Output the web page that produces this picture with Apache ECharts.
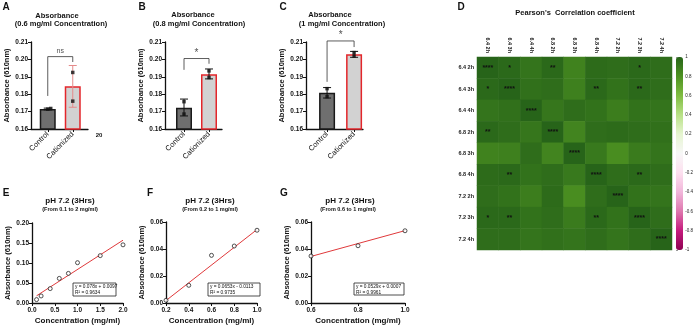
<!DOCTYPE html>
<html>
<head>
<meta charset="utf-8">
<script src="https://cdn.jsdelivr.net/npm/echarts@6/dist/echarts.min.js"></script>
<style>
html,body{margin:0;padding:0;background:#fff;}
#main{width:696px;height:328px;}
</style>
</head>
<body>
<div id="main"></div>
<script>
var FONT = '"Liberation Sans", Arial, sans-serif';

/* bar panels A-C */
var barCats = ['Control', 'Cationized'];
var meanA = [0.1715, 0.1845];
var lowA = [0.1710, 0.1725];
var highA = [0.1720, 0.1965];
var dotsA = [[0, 0.1714], [0.12, 0.1718], [1, 0.1925], [1, 0.1760]];
var bracketA = [0.179, 0.2016, 0.1985];

var meanB = [0.1722, 0.1915];
var lowB = [0.1675, 0.1888];
var highB = [0.1772, 0.1945];
var dotsB = [[0, 0.1757], [0, 0.1686], [1, 0.1934], [1, 0.1896]];
var bracketB = [0.194, 0.2005, 0.1975];

var meanC = [0.1809, 0.2029];
var lowC = [0.1778, 0.2012];
var highC = [0.1838, 0.2046];
var dotsC = [[0, 0.1832], [0, 0.1786], [1, 0.2039], [1, 0.2019]];
var bracketC = [0.1871, 0.2106, 0.2071];

var sigLabels = ['ns', '*', '*'];

/* calibration panels E-G */
var concE = [0.1, 0.2, 0.4, 0.6, 0.8, 1.0, 1.5, 2.0];
var absE = [0.0085, 0.0176, 0.036, 0.0615, 0.074, 0.1008, 0.1184, 0.1454];
var fitE = [[0.1, 0.018], [2.0, 0.157]];
var eqE = ['y = 0.078x + 0.0097', 'R\u00b2 = 0.9634'];

var concF = [0.2, 0.4, 0.6, 0.8, 1.0];
var absF = [0.002, 0.0131, 0.0353, 0.0422, 0.0539];
var fitF = [[0.2, 0.0018], [1.0, 0.0544]];
var eqF = ['y = 0.0653x - 0.0113', 'R\u00b2 = 0.9735'];

var concG = [0.6, 0.8, 1.0];
var absG = [0.0348, 0.0424, 0.0535];
var fitG = [[0.6, 0.0345], [1.0, 0.0536]];
var eqG = ['y = 0.0529x + 0.0007', 'R\u00b2 = 0.9961'];

/* correlation heatmap D */
var corrLabels = ['6.4 2h', '6.4 3h', '6.4 4h', '6.8 2h', '6.8 3h', '6.8 4h', '7.2 2h', '7.2 3h', '7.2 4h'];
var corrValues = [
  [1.00, 0.98, 0.93, 0.98, 0.87, 0.97, 0.96, 0.98, 0.96],
  [0.98, 1.00, 0.95, 0.96, 0.88, 0.98, 0.94, 0.98, 0.96],
  [0.93, 0.95, 1.00, 0.92, 0.96, 0.94, 0.89, 0.94, 0.93],
  [0.98, 0.96, 0.92, 1.00, 0.86, 0.96, 0.97, 0.96, 0.95],
  [0.87, 0.88, 0.96, 0.86, 1.00, 0.91, 0.82, 0.90, 0.93],
  [0.97, 0.98, 0.94, 0.96, 0.91, 1.00, 0.96, 0.98, 0.96],
  [0.96, 0.94, 0.89, 0.97, 0.82, 0.96, 1.00, 0.94, 0.93],
  [0.98, 0.98, 0.94, 0.96, 0.90, 0.98, 0.94, 1.00, 0.96],
  [0.96, 0.96, 0.93, 0.95, 0.93, 0.96, 0.93, 0.96, 1.00]
];
var corrStars = [
  ['****', '*', '', '**', '', '', '', '*', ''],
  ['*', '****', '', '', '', '**', '', '**', ''],
  ['', '', '****', '', '', '', '', '', ''],
  ['**', '', '', '****', '', '', '', '', ''],
  ['', '', '', '', '****', '', '', '', ''],
  ['', '**', '', '', '', '****', '', '**', ''],
  ['', '', '', '', '', '', '****', '', ''],
  ['*', '**', '', '', '', '**', '', '****', ''],
  ['', '', '', '', '', '', '', '', '****']
];
var piyg = ['#8e0152', '#c51b7d', '#de77ae', '#f1b6da', '#fde0ef', '#f7f7f7', '#e6f5d0', '#b8e186', '#7fbc41', '#4d9221', '#276419'];

var grids = [], xAxes = [], yAxes = [], series = [];
var axisCol = '#111';

// 柱状图面板
function barPanel(left, xmin, xmax, mean, low, high, dots, bracket, sig, errCols) {
  grids.push({left: left, top: 42, width: 57, height: 87});
  var gi = grids.length - 1;
  xAxes.push({
    gridIndex: gi, type: 'value', min: xmin, max: xmax,
    splitLine: {show: false},
    axisLine: {onZero: false, lineStyle: {color: axisCol, width: 1.3}},
    axisTick: {customValues: [0, 1], length: 3, lineStyle: {color: axisCol}},
    axisLabel: {customValues: [0, 1], rotate: 45, fontSize: 7.5, color: '#111', fontFamily: FONT, margin: 4,
      formatter: function (v) { return barCats[Math.round(v)]; }}
  });
  yAxes.push({
    gridIndex: gi, type: 'value', min: 0.16, max: 0.21, interval: 0.01,
    splitLine: {show: false},
    axisLine: {show: true, onZero: false, lineStyle: {color: axisCol, width: 1.3}},
    axisTick: {show: true, length: 3, lineStyle: {color: axisCol}},
    axisLabel: {fontSize: 6.5, fontWeight: 'bold', color: '#111', fontFamily: FONT, margin: 3,
      formatter: function (v) { return v.toFixed(2); }},
    name: 'Absorbance (610nm)', nameLocation: 'middle', nameGap: 20,
    nameTextStyle: {fontSize: 7.5, fontWeight: 'bold', color: '#111', fontFamily: FONT}
  });
  var xi = xAxes.length - 1, yi = yAxes.length - 1;
  var fills = ['#6f6f6f', '#d2d2d2'];
  var edges = ['#1a1a1a', '#e3262b'];
  series.push({
    type: 'bar', xAxisIndex: xi, yAxisIndex: yi, barWidth: 16, z: 2, silent: true,
    data: mean.map(function (v, i) {
      return {value: [i, v], itemStyle: {color: fills[i], borderColor: edges[i], borderWidth: 1.5}};
    })
  });
  series.push({
    type: 'custom', xAxisIndex: xi, yAxisIndex: yi, z: 3, silent: true,
    data: mean.map(function (v, i) { return [i, low[i], high[i]]; }),
    renderItem: function (params, api) {
      var t = api.coord([api.value(0), api.value(2)]);
      var b = api.coord([api.value(0), api.value(1)]);
      var c = errCols[params.dataIndex], w = 4;
      var st = {stroke: c, lineWidth: 1};
      return {type: 'group', children: [
        {type: 'line', shape: {x1: t[0], y1: t[1], x2: b[0], y2: b[1]}, style: st},
        {type: 'line', shape: {x1: t[0] - w, y1: t[1], x2: t[0] + w, y2: t[1]}, style: st},
        {type: 'line', shape: {x1: b[0] - w, y1: b[1], x2: b[0] + w, y2: b[1]}, style: st}
      ]};
    }
  });
  series.push({
    type: 'scatter', xAxisIndex: xi, yAxisIndex: yi, z: 4, silent: true,
    symbol: 'rect', symbolSize: 3.5, itemStyle: {color: '#111'}, data: dots
  });
  series.push({
    type: 'line', xAxisIndex: xi, yAxisIndex: yi, z: 4, silent: true, clip: false,
    symbol: 'none', lineStyle: {color: '#333', width: 0.8},
    data: [[0, bracket[0]], [0, bracket[1]], [1, bracket[1]], [1, bracket[2]]]
  });
  series.push({
    type: 'scatter', xAxisIndex: xi, yAxisIndex: yi, z: 4, silent: true, clip: false,
    symbolSize: 1, itemStyle: {color: 'rgba(0,0,0,0)'},
    label: {show: true, position: 'top', distance: sig === '*' ? 0 : 2, formatter: sig,
      fontSize: sig === '*' ? 10 : 7, color: '#222', fontFamily: FONT},
    data: [[0.5, bracket[1]]]
  });
}

// 标准曲线面板
function fitPanel(left, top, width, height, xmin, xmax, xint, ymax, yint, xs, ys, fit) {
  grids.push({left: left, top: top, width: width, height: height});
  var gi = grids.length - 1;
  xAxes.push({
    gridIndex: gi, type: 'value', min: xmin, max: xmax, interval: xint,
    splitLine: {show: false},
    axisLine: {onZero: false, lineStyle: {color: axisCol, width: 1.3}},
    axisTick: {length: 3, lineStyle: {color: axisCol}},
    axisLabel: {fontSize: 6.5, fontWeight: 'bold', color: '#111', fontFamily: FONT, margin: 4,
      formatter: function (v) { return v.toFixed(1); }},
    name: 'Concentration (mg/ml)', nameLocation: 'middle', nameGap: 14,
    nameTextStyle: {fontSize: 8, fontWeight: 'bold', color: '#111', fontFamily: FONT}
  });
  yAxes.push({
    gridIndex: gi, type: 'value', min: 0, max: ymax, interval: yint,
    splitLine: {show: false},
    axisLine: {show: true, onZero: false, lineStyle: {color: axisCol, width: 1.3}},
    axisTick: {show: true, length: 3, lineStyle: {color: axisCol}},
    axisLabel: {fontSize: 6.5, fontWeight: 'bold', color: '#111', fontFamily: FONT, margin: 3,
      formatter: function (v) { return v.toFixed(2); }},
    name: 'Absorbance (610nm)', nameLocation: 'middle', nameGap: 20,
    nameTextStyle: {fontSize: 7.5, fontWeight: 'bold', color: '#111', fontFamily: FONT}
  });
  var xi = xAxes.length - 1, yi = yAxes.length - 1;
  series.push({
    type: 'line', xAxisIndex: xi, yAxisIndex: yi, z: 2, silent: true, symbol: 'none',
    lineStyle: {color: '#e0393b', width: 1}, data: fit
  });
  series.push({
    type: 'scatter', xAxisIndex: xi, yAxisIndex: yi, z: 3, silent: true, clip: false,
    symbol: 'circle', symbolSize: 4,
    itemStyle: {color: '#fff', borderColor: '#111', borderWidth: 0.9},
    data: xs.map(function (x, i) { return [x, ys[i]]; })
  });
}

barPanel(31, -0.67, 1.61, meanA, lowA, highA, dotsA, bracketA, sigLabels[0], ['#111', '#e58a8a']);
barPanel(165, -0.76, 1.52, meanB, lowB, highB, dotsB, bracketB, sigLabels[1], ['#111', '#111']);
barPanel(306, -0.78, 1.33, meanC, lowC, highC, dotsC, bracketC, sigLabels[2], ['#111', '#111']);

fitPanel(32, 223, 91, 80, 0, 2, 0.5, 0.2, 0.05, concE, absE, fitE);
fitPanel(166, 222, 91, 81, 0.2, 1.0, 0.2, 0.06, 0.02, concF, absF, fitF);
fitPanel(311, 222, 94, 81, 0.6, 1.0, 0.2, 0.06, 0.02, concG, absG, fitG);

/* heatmap */
grids.push({left: 477, top: 57, width: 195, height: 193});
var hg = grids.length - 1;
xAxes.push({
  gridIndex: hg, type: 'category', data: corrLabels, position: 'top',
  axisLine: {show: false}, axisTick: {show: false}, splitLine: {show: false},
  axisLabel: {rotate: 90, fontSize: 5.5, fontWeight: 'bold', color: '#222', fontFamily: FONT, margin: 4}
});
yAxes.push({
  gridIndex: hg, type: 'category', data: corrLabels, inverse: true,
  axisLine: {show: false}, axisTick: {show: false}, splitLine: {show: false},
  axisLabel: {fontSize: 5.5, fontWeight: 'bold', color: '#222', fontFamily: FONT, margin: 3}
});
var heatData = [];
for (var r = 0; r < corrLabels.length; r++) {
  for (var c = 0; c < corrLabels.length; c++) {
    heatData.push([c, r, corrValues[r][c]]);
  }
}
var heatIndex = series.length;
series.push({
  type: 'heatmap', xAxisIndex: xAxes.length - 1, yAxisIndex: yAxes.length - 1, silent: true,
  data: heatData,
  label: {show: true, fontSize: 7, fontWeight: 'bold', color: '#111', fontFamily: FONT,
    formatter: function (p) { return corrStars[p.value[1]][p.value[0]]; }},
  emphasis: {disabled: true}
});

/* colour bar scale */
grids.push({left: 676, top: 57, width: 7, height: 193});
var cg = grids.length - 1;
xAxes.push({gridIndex: cg, type: 'value', show: false, min: 0, max: 1});
yAxes.push({
  gridIndex: cg, type: 'value', position: 'right', min: -1, max: 1, interval: 0.2,
  axisLine: {show: false}, splitLine: {show: false},
  axisTick: {show: true, length: 2, lineStyle: {color: '#555', width: 0.6}},
  axisLabel: {fontSize: 4.5, color: '#222', fontFamily: FONT, margin: 4,
    formatter: function (v) { return String(Math.round(v * 10) / 10); }}
});

function txt(x, y, s, size, bold, align) {
  return {type: 'text', silent: true, style: {x: x, y: y, text: s, fontSize: size,
    fontWeight: bold ? 'bold' : 'normal', fontFamily: FONT, fill: '#111',
    align: align || 'center', verticalAlign: 'middle'}};
}
function eqBox(x, y, w, h, lines) {
  return [
    {type: 'rect', silent: true, shape: {x: x, y: y, width: w, height: h},
      style: {fill: '#fff', stroke: '#222', lineWidth: 0.8}, z: 10},
    {type: 'text', silent: true, z: 11, style: {x: x + 2, y: y + 3.5, text: lines[0], fontSize: 4.8,
      fontFamily: FONT, fill: '#111', verticalAlign: 'middle'}},
    {type: 'text', silent: true, z: 11, style: {x: x + 2, y: y + 9.5, text: lines[1], fontSize: 4.8,
      fontFamily: FONT, fill: '#111', verticalAlign: 'middle'}}
  ];
}

var graphics = [
  txt(6, 7, 'A', 10, true), txt(142, 7, 'B', 10, true), txt(283, 7, 'C', 10, true),
  txt(461, 7, 'D', 10, true), txt(6, 193, 'E', 10, true), txt(150, 193, 'F', 10, true),
  txt(284, 193, 'G', 10, true),
  txt(57, 16, 'Absorbance', 7.5, true), txt(61, 24, '(0.6 mg/ml Concentration)', 7.5, true),
  txt(193, 15, 'Absorbance', 7.5, true), txt(199, 24, '(0.8 mg/ml Concentration)', 7.5, true),
  txt(330, 15, 'Absorbance', 7.5, true), txt(342, 24, '(1 mg/ml Concentration)', 7.5, true),
  txt(575, 13, "Pearson's  Correlation coefficient", 7.5, true),
  txt(99, 135, '20', 6, true),
  txt(70, 201, 'pH 7.2 (3Hrs)', 8, true), txt(70, 209, '(From 0.1 to 2 mg/ml)', 5.5, true),
  txt(210, 201, 'pH 7.2 (3Hrs)', 8, true), txt(210, 209, '(From 0.2 to 1 mg/ml)', 5.5, true),
  txt(350, 201, 'pH 7.2 (3Hrs)', 8, true), txt(348, 209, '(From 0.6 to 1 mg/ml)', 5.5, true)
];
graphics = graphics.concat(eqBox(73, 283, 43, 13, eqE), eqBox(208, 283, 52, 13, eqF), eqBox(354, 283, 50, 12, eqG));

var option = {
  backgroundColor: '#fff',
  animation: false,
  textStyle: {fontFamily: FONT},
  grid: grids,
  xAxis: xAxes,
  yAxis: yAxes,
  visualMap: {
    type: 'continuous', min: -1, max: 1, seriesIndex: heatIndex, calculable: false,
    orient: 'vertical', left: 676, top: 57, itemWidth: 7, itemHeight: 193, padding: 0,
    showLabel: false, inRange: {color: piyg}
  },
  graphic: graphics,
  series: series
};

echarts.init(document.getElementById('main')).setOption(option);
</script>
</body>
</html>
